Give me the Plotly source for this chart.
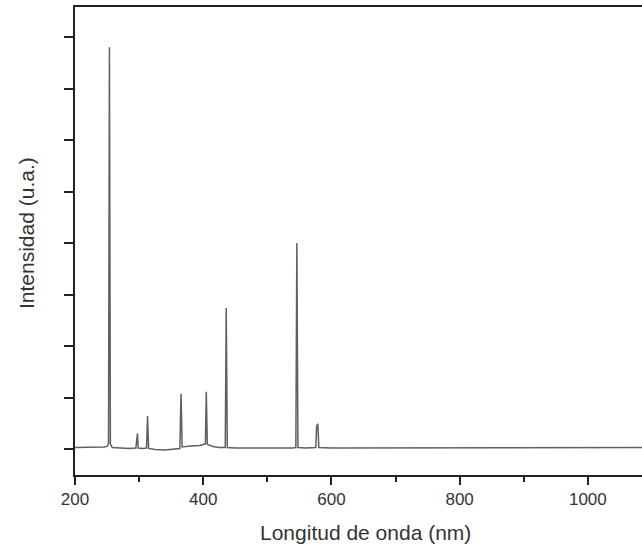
import plotly.graph_objects as go

# Emission spectrum (wavelength in nm, intensity in arbitrary units)
wavelength = [200, 215, 230, 245, 250, 252.3, 253.7, 255.2, 258, 270, 285, 295,
              296.6, 297.4, 298.6, 305, 311.6, 313.2, 314.8, 325, 340, 355, 363.6,
              365.4, 367.2, 380, 395, 403.4, 404.8, 406.4, 415, 425, 434.4, 435.9,
              437.6, 450, 470, 500, 520, 540, 544.5, 546.1, 547.8, 560, 575.6, 577.0,
              578.8, 580.4, 600, 630, 660, 690, 720, 750, 780, 810, 840, 870, 900,
              930, 960, 990, 1020, 1050, 1085]
intensity = [0.03, 0.03, 0.04, 0.04, 0.05, 0.10, 7.80, 0.10, 0.03, 0.02, 0.01, 0.02,
             0.30, 0.30, 0.02, 0.01, 0.02, 0.64, 0.01, -0.01, -0.02, -0.01, 0.01,
             1.07, 0.04, 0.06, 0.07, 0.10, 1.11, 0.09, 0.05, 0.03, 0.03, 2.74,
             0.03, 0.02, 0.02, 0.01, 0.02, 0.02, 0.03, 4.00, 0.03, 0.02, 0.03, 0.45,
             0.49, 0.03, 0.02, 0.02, 0.03, 0.02, 0.03, 0.03, 0.03, 0.03, 0.02, 0.03,
             0.03, 0.03, 0.02, 0.03, 0.03, 0.03, 0.03]

x_major_ticks = [200, 400, 600, 800, 1000]
y_ticks = [0, 1, 2, 3, 4, 5, 6, 7, 8]

fig = go.Figure()
fig.add_trace(go.Scatter(x=wavelength, y=intensity, mode="lines",
                         line=dict(color="#606060", width=1.5), showlegend=False))

axis_color = "#222222"
font_family = "Liberation Sans, Arial, sans-serif"

fig.update_layout(
    width=642, height=548,
    margin=dict(l=75, r=0, t=7, b=73),
    paper_bgcolor="white", plot_bgcolor="white",
    font=dict(family=font_family, color="#333333"),
    xaxis=dict(
        range=[200, 1084.5], showgrid=False, zeroline=False,
        showline=True, linecolor=axis_color, linewidth=2, mirror=True,
        tickvals=x_major_ticks, ticks="outside", ticklen=8, tickwidth=2,
        tickcolor=axis_color, tickfont=dict(size=17, color="#333333"),
        minor=dict(dtick=100, tick0=200, ticks="outside", ticklen=5,
                   tickwidth=2, tickcolor=axis_color, showgrid=False),
    ),
    yaxis=dict(
        range=[-0.505, 8.583], showgrid=False, zeroline=False,
        showline=True, linecolor=axis_color, linewidth=2,
        tickvals=y_ticks, ticks="outside", ticklen=9, tickwidth=2,
        tickcolor=axis_color, showticklabels=False,
    ),
    annotations=[
        dict(text="Longitud de onda (nm)", xref="paper", yref="paper",
             x=(365 - 75) / 567, y=-(532 - 475) / 468, showarrow=False,
             font=dict(size=21, color="#333333"), xanchor="center", yanchor="middle"),
        dict(text="Intensidad (u.a.)", xref="paper", yref="paper",
             x=-(75 - 27) / 567, y=(475 - 233) / 468, showarrow=False, textangle=-90,
             font=dict(size=21, color="#333333"), xanchor="center", yanchor="middle"),
    ],
)

fig.write_html("out.html")
